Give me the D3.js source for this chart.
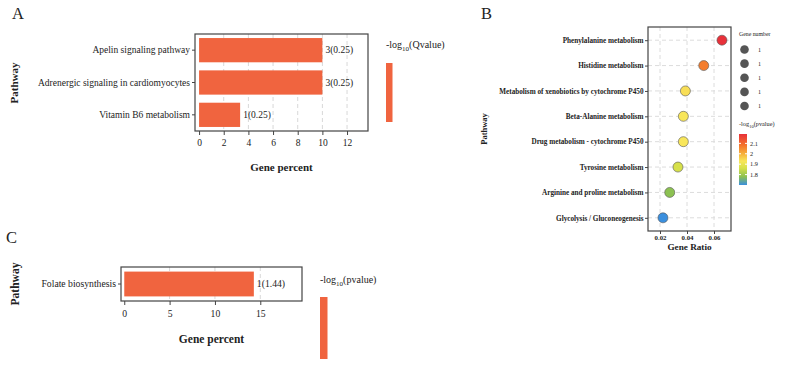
<!DOCTYPE html>
<html>
<head>
<meta charset="utf-8">
<script src="https://cdn.jsdelivr.net/npm/d3@7"></script>
<style>
  body { margin: 0; background: #fff; }
  svg text { font-family: "Liberation Serif", "DejaVu Serif", serif; fill: #222; }
</style>
</head>
<body>
<div id="chart"></div>
<script>
// panel A data
var pathwaysA = ["Apelin signaling pathway", "Adrenergic signaling in cardiomyocytes", "Vitamin B6 metabolism"];
var percentA = [10, 10, 3.33];
var labelsA = ["3(0.25)", "3(0.25)", "1(0.25)"];
var ticksA = [0, 2, 4, 6, 8, 10, 12];

// panel B data
var pathwaysB = ["Phenylalanine metabolism", "Histidine metabolism", "Metabolism of xenobiotics by cytochrome P450",
  "Beta-Alanine metabolism", "Drug metabolism - cytochrome P450", "Tyrosine metabolism",
  "Arginine and proline metabolism", "Glycolysis / Gluconeogenesis"];
var ratioB = [0.0659, 0.0524, 0.0388, 0.0373, 0.0373, 0.0333, 0.0272, 0.0222];
var pvalB = [2.19, 2.07, 1.94, 1.93, 1.93, 1.86, 1.78, 1.70];
var ticksB = [0.02, 0.04, 0.06];
var geneNumLegend = [1, 1, 1, 1, 1];
var colorTicksB = [2.1, 2.0, 1.9, 1.8];

// panel C data
var pathwaysC = ["Folate biosynthesis"];
var percentC = [14.29];
var labelsC = ["1(1.44)"];
var ticksC = [0, 5, 10, 15];

var barColor = "#f0643f";
var serif = "'Liberation Serif', 'DejaVu Serif', serif";

var svg = d3.select("#chart").append("svg")
  .attr("width", 787)
  .attr("height", 367);

function panelLetter(t, x, y) {
  svg.append("text").attr("x", x).attr("y", y).attr("font-size", 16.5).attr("fill", "#111").text(t);
}

function legendTitle(g, x, y, rest, size) {
  var t = g.append("text").attr("x", x).attr("y", y).attr("font-size", size).attr("fill", "#333");
  t.append("tspan").text("-log");
  t.append("tspan").attr("font-size", size * 0.7).attr("dy", size * 0.28).text("10");
  t.append("tspan").attr("dy", -size * 0.28).text(rest);
}

// horizontal bar panel (A and C)
function barPanel(o) {
  var x = d3.scaleLinear().domain(o.xDomain).range([o.left, o.right]);
  var y = d3.scaleBand().domain(o.cats).range([o.top, o.bottom]).paddingInner(o.pad).paddingOuter(o.pad / 2);
  var g = svg.append("g");

  // grid
  g.selectAll("line.grid").data(o.ticks.slice(1)).enter().append("line")
    .attr("x1", d => x(d)).attr("x2", d => x(d))
    .attr("y1", o.top).attr("y2", o.bottom)
    .attr("stroke", "#d8d8d8").attr("stroke-dasharray", "4,3");

  g.selectAll("rect.bar").data(o.cats).enter().append("rect")
    .attr("x", x(0))
    .attr("y", d => y(d))
    .attr("width", (d, i) => x(o.values[i]) - x(0))
    .attr("height", y.bandwidth())
    .attr("fill", barColor);

  g.selectAll("text.val").data(o.cats).enter().append("text")
    .attr("x", (d, i) => x(o.values[i]) + 3)
    .attr("y", d => y(d) + y.bandwidth() / 2)
    .attr("dy", "0.35em")
    .attr("font-size", o.fs)
    .text((d, i) => o.labels[i]);

  g.append("rect")
    .attr("x", o.left).attr("y", o.top)
    .attr("width", o.right - o.left).attr("height", o.bottom - o.top)
    .attr("fill", "none").attr("stroke", "#444").attr("stroke-width", 1.2);

  var xAxis = g.append("g").attr("transform", `translate(0,${o.bottom})`)
    .call(d3.axisBottom(x).tickValues(o.ticks).tickSize(4).tickPadding(o.xPad));
  xAxis.attr("font-family", serif);
  xAxis.select(".domain").remove();
  xAxis.selectAll("text").attr("font-size", o.fs).attr("fill", "#333");
  xAxis.selectAll("line").attr("stroke", "#444");

  var yAxis = g.append("g").attr("transform", `translate(${o.left},0)`)
    .call(d3.axisLeft(y).tickSize(3).tickPadding(2));
  yAxis.attr("font-family", serif);
  yAxis.select(".domain").remove();
  yAxis.selectAll("text").attr("font-size", o.fs).attr("fill", "#222");
  yAxis.selectAll("line").attr("stroke", "#444");

  g.append("text").attr("x", (o.left + o.right) / 2).attr("y", o.xTitleY)
    .attr("text-anchor", "middle").attr("font-size", o.titleFs).attr("font-weight", "bold")
    .text("Gene percent");
  g.append("text")
    .attr("transform", `translate(${o.yTitleX},${o.yTitleY}) rotate(-90)`)
    .attr("text-anchor", "middle").attr("font-size", o.titleFs).attr("font-weight", "bold")
    .text("Pathway");

  legendTitle(g, o.legX, o.legY, o.legRest, 10);
  g.append("rect").attr("x", o.legX).attr("y", o.barTop)
    .attr("width", o.legW).attr("height", o.barBottom - o.barTop).attr("fill", barColor);
}

panelLetter("A", 12, 19);
barPanel({
  cats: pathwaysA, values: percentA, labels: labelsA, ticks: ticksA,
  xDomain: [-0.33, 13.7], left: 195, right: 368, top: 34, bottom: 131, pad: 0.25, fs: 9.5, titleFs: 11,
  xPad: 4, xTitleY: 170.5, yTitleX: 18, yTitleY: 83,
  legX: 386, legY: 48, legRest: "(Qvalue)", legW: 6.5, barTop: 63, barBottom: 122
});

panelLetter("C", 6, 243);
barPanel({
  cats: pathwaysC, values: percentC, labels: labelsC, ticks: ticksC,
  xDomain: [-0.36, 19.6], left: 121, right: 302, top: 267, bottom: 301, pad: 0.27, fs: 9.7, titleFs: 11.5,
  xPad: 5, xTitleY: 343, yTitleX: 19, yTitleY: 284,
  legX: 320, legY: 283, legRest: "(pvalue)", legW: 7.5, barTop: 297, barBottom: 359
});

// panel B dot plot
(function () {
  var left = 648, right = 731, top = 27, bottom = 231;
  var x = d3.scaleLinear().domain([0.02 - (660 - 648) / 27 * 0.02, 0.02 + (731 - 660) / 27 * 0.02]).range([left, right]);
  var y = d3.scalePoint().domain(pathwaysB).range([top, bottom]).padding(0.52);
  var color = d3.scaleLinear()
    .domain([1.70, 1.78, 1.86, 1.93, 2.0, 2.08, 2.19])
    .range(["#3a8fde", "#8cc152", "#d6e04a", "#f8e65a", "#f6b13c", "#f4752b", "#e8313a"]);
  var g = svg.append("g");

  g.selectAll("line.vg").data(ticksB).enter().append("line")
    .attr("x1", d => x(d)).attr("x2", d => x(d)).attr("y1", top).attr("y2", bottom)
    .attr("stroke", "#dcdcdc").attr("stroke-dasharray", "4,3");
  g.selectAll("line.hg").data(pathwaysB).enter().append("line")
    .attr("x1", left).attr("x2", right).attr("y1", d => y(d)).attr("y2", d => y(d))
    .attr("stroke", "#dcdcdc").attr("stroke-dasharray", "4,3");

  g.selectAll("circle.pt").data(pathwaysB).enter().append("circle")
    .attr("cx", (d, i) => x(ratioB[i]))
    .attr("cy", d => y(d))
    .attr("r", 5)
    .attr("fill", (d, i) => color(pvalB[i]))
    .attr("stroke", "#555").attr("stroke-width", 0.6);

  g.append("rect").attr("x", left).attr("y", top)
    .attr("width", right - left).attr("height", bottom - top)
    .attr("fill", "none").attr("stroke", "#444").attr("stroke-width", 1.2);

  var xAxis = g.append("g").attr("transform", `translate(0,${bottom})`)
    .call(d3.axisBottom(x).tickValues(ticksB).tickSize(3).tickPadding(1).tickFormat(d3.format(".2f")));
  xAxis.attr("font-family", serif);
  xAxis.select(".domain").remove();
  xAxis.selectAll("text").attr("font-size", 6.8).attr("font-weight", "bold").attr("fill", "#555");
  xAxis.selectAll("line").attr("stroke", "#444");

  var yAxis = g.append("g").attr("transform", `translate(${left},0)`)
    .call(d3.axisLeft(y).tickSize(3).tickPadding(1.5));
  yAxis.attr("font-family", serif);
  yAxis.select(".domain").remove();
  yAxis.selectAll("text").attr("font-size", 7.2).attr("font-weight", "bold").attr("fill", "#333");
  yAxis.selectAll("line").attr("stroke", "#444");

  g.append("text").attr("x", (left + right) / 2).attr("y", 250)
    .attr("text-anchor", "middle").attr("font-size", 9.2).attr("font-weight", "bold")
    .text("Gene Ratio");
  g.append("text").attr("transform", "translate(487,129) rotate(-90)")
    .attr("text-anchor", "middle").attr("font-size", 8.5).attr("font-weight", "bold")
    .text("Pathway");

  // size legend
  g.append("text").attr("x", 739).attr("y", 35.5).attr("font-size", 5.8).attr("fill", "#444").text("Gene number");
  var sizeY = d3.scalePoint().domain(d3.range(geneNumLegend.length)).range([49.5, 106]);
  g.selectAll("circle.sz").data(geneNumLegend).enter().append("circle")
    .attr("cx", 744.5).attr("cy", (d, i) => sizeY(i)).attr("r", 4.3).attr("fill", "#555");
  g.selectAll("text.sz").data(geneNumLegend).enter().append("text")
    .attr("x", 758).attr("y", (d, i) => sizeY(i)).attr("dy", "0.35em")
    .attr("font-size", 6).attr("fill", "#444").text(d => d);

  // colour legend
  var lt = g.append("text").attr("x", 739).attr("y", 126).attr("font-size", 6.3).attr("fill", "#444");
  lt.append("tspan").text("-log");
  lt.append("tspan").attr("font-size", 4.5).attr("dy", 1.8).text("10");
  lt.append("tspan").attr("dy", -1.8).text("(pvalue)");

  var cy = d3.scaleLinear().domain([1.70, 2.19]).range([185, 134]);
  var defs = svg.append("defs");
  var grad = defs.append("linearGradient").attr("id", "pgrad")
    .attr("x1", 0).attr("y1", 1).attr("x2", 0).attr("y2", 0);
  color.domain().forEach(function (v) {
    grad.append("stop").attr("offset", (v - 1.70) / (2.19 - 1.70)).attr("stop-color", color(v));
  });
  g.append("rect").attr("x", 739).attr("y", cy(2.19)).attr("width", 8).attr("height", cy(1.70) - cy(2.19))
    .attr("fill", "url(#pgrad)");
  g.selectAll("line.ct").data(colorTicksB).enter().append("line")
    .attr("x1", 739).attr("x2", 741).attr("y1", d => cy(d)).attr("y2", d => cy(d)).attr("stroke", "#fff");
  g.selectAll("line.ct2").data(colorTicksB).enter().append("line")
    .attr("x1", 745).attr("x2", 747).attr("y1", d => cy(d)).attr("y2", d => cy(d)).attr("stroke", "#fff");
  g.selectAll("text.ct").data(colorTicksB).enter().append("text")
    .attr("x", 750).attr("y", d => cy(d)).attr("dy", "0.35em")
    .attr("font-size", 6.3).attr("fill", "#444").text(d => d3.format("")(d));

  svg.append("text").attr("x", 481).attr("y", 19).attr("font-size", 16.5).attr("fill", "#111").text("B");
})();
</script>
</body>
</html>
